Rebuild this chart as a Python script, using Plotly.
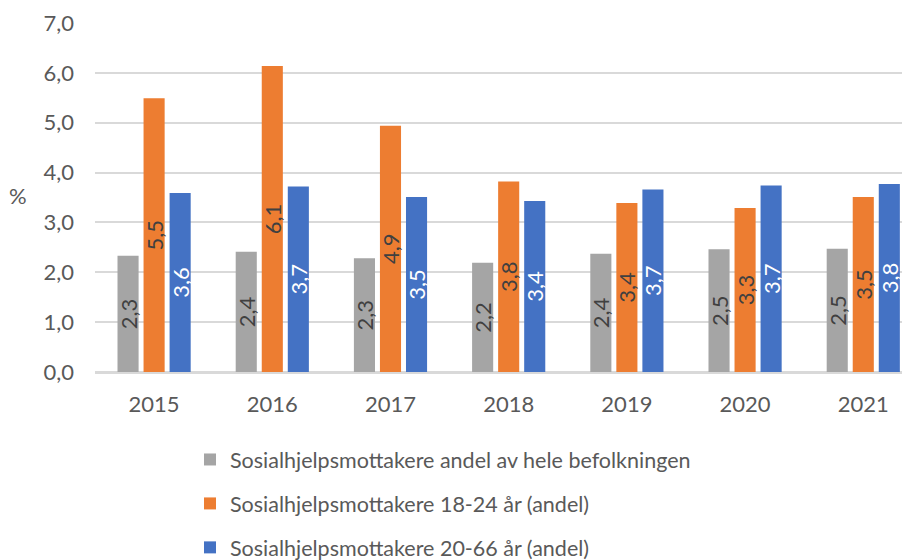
import plotly.graph_objects as go

years = ["2015", "2016", "2017", "2018", "2019", "2020", "2021"]
series_names = [
    "Sosialhjelpsmottakere andel av hele befolkningen",
    "Sosialhjelpsmottakere 18-24 år (andel)",
    "Sosialhjelpsmottakere 20-66 år (andel)",
]
hele_befolkningen = [2.33, 2.41, 2.28, 2.19, 2.37, 2.46, 2.47]
alder_18_24 = [5.49, 6.14, 4.94, 3.82, 3.39, 3.29, 3.51]
alder_20_66 = [3.59, 3.72, 3.51, 3.43, 3.66, 3.74, 3.77]
y_ticks = [0, 1, 2, 3, 4, 5, 6, 7]

colors = ["#A5A5A5", "#ED7D31", "#4472C4"]
label_colors = ["#404040", "#404040", "#FFFFFF"]
FONT = "Lato"

fig = go.Figure()
for i, (name, vals) in enumerate(zip(series_names, [hele_befolkningen, alder_18_24, alder_20_66])):
    fig.add_trace(go.Bar(
        x=years, y=vals, name=name, legendgroup=f"g{i}",
        marker=dict(color=colors[i], line=dict(width=0)),
        texttemplate="%{y:.1f}", textposition="inside", insidetextanchor="middle",
        textangle=-90, constraintext="none",
        textfont=dict(family=FONT, size=22, color=label_colors[i]),
        hoverinfo="skip",
    ))

# page body has an 8px margin, so figure coords are page coords minus 8
fig.update_layout(
    width=910, height=560,
    margin=dict(l=87, r=0, t=15, b=196, autoexpand=False),
    paper_bgcolor="white", plot_bgcolor="white",
    separators=", ",
    barmode="group", bargap=0.339, bargroupgap=0.19,
    font=dict(family=FONT, size=22, color="#595959"),
    showlegend=True,
    legend=dict(
        orientation="v", xref="container", yref="container",
        x=182 / 910, y=1 - 431 / 560, xanchor="left", yanchor="top",
        font=dict(family=FONT, size=21.5, color="#595959"),
        tracegroupgap=13, traceorder="grouped",
        bgcolor="rgba(0,0,0,0)",
    ),
    xaxis=dict(
        type="category", range=[-0.5, 6.463],
        showgrid=False, showline=True, linecolor="#D9D9D9", linewidth=1.5,
        ticks="", ticklabelstandoff=12, tickangle=0,
        tickfont=dict(family=FONT, size=22, color="#595959"),
    ),
    yaxis=dict(
        range=[0, 7], tickvals=y_ticks, tickformat=".1f",
        showgrid=True, gridcolor="#D9D9D9", gridwidth=1.5,
        zeroline=True, zerolinecolor="#D9D9D9", zerolinewidth=1.5,
        ticks="", ticklabelstandoff=20,
        tickfont=dict(family=FONT, size=22, color="#595959"),
    ),
    annotations=[dict(
        text="%", xref="paper", yref="paper",
        x=(10 - 87) / 823, y=(364 - 187) / 349,
        xanchor="center", yanchor="middle", showarrow=False,
        font=dict(family=FONT, size=22, color="#595959"),
    )],
)

fig.write_html("out.html")
